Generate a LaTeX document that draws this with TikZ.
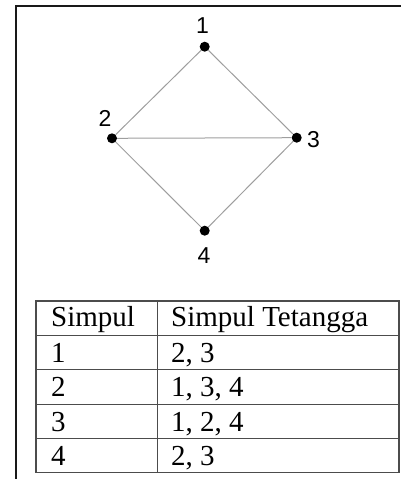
\documentclass[tikz,border=0pt]{standalone}
\usepackage{fontspec}
\setmainfont{Liberation Serif}
\newfontfamily\labfont{Liberation Sans}
\begin{document}
\begin{tikzpicture}[x=1pt,y=-1pt,
  vtx/.style={circle,fill=black,inner sep=0pt,minimum size=10pt},
  vlab/.style={font=\labfont\fontsize{23}{23}\selectfont,inner sep=0pt},
  edge/.style={draw=black!38,line width=1pt},
  cell/.style={font=\fontsize{29}{29}\selectfont,inner sep=0pt,anchor=base west},
  tline/.style={draw=black!70,line width=1.1pt},
  frame/.style={draw=black!90,line width=2pt}]
\useasboundingbox (0,0) rectangle (400,479);
% frame
\draw[frame] (16,480) -- (16,6) -- (402,6);
% graph
\node[vtx] (v1) at (204.7,46.7) {};
\node[vtx] (v2) at (112,138.3) {};
\node[vtx] (v3) at (296.7,137.7) {};
\node[vtx] (v4) at (204.7,230.7) {};
\node[vlab] (l1) at (202.5,25.5) {1};
\node[vlab] (l2) at (105,118) {2};
\node[vlab] (l3) at (313.5,139.5) {3};
\node[vlab] (l4) at (204,255.5) {4};
\draw[edge] (v1) -- (v2);
\draw[edge] (v1) -- (v3);
\draw[edge] (v2) -- (v3);
\draw[edge] (v2) -- (v4);
\draw[edge] (v3) -- (v4);
% table
\draw[tline] (36,301) rectangle (399,472.3);
\draw[tline] (157.7,301) -- (157.7,472.3);
\foreach \yy in {335.7,369.3,404.3,438.3} \draw[tline] (36,\yy) -- (399,\yy);
\node[cell] (h1) at (51,326.7) {Simpul};
\node[cell] (h2) at (171,326.7) {Simpul Tetangga};
\node[cell] (a1) at (51,362) {1};
\node[cell] (b1) at (171,362) {2, 3};
\node[cell] (a2) at (51,396.5) {2};
\node[cell] (b2) at (171,396.5) {1, 3, 4};
\node[cell] (a3) at (51,431) {3};
\node[cell] (b3) at (171,431) {1, 2, 4};
\node[cell] (a4) at (51,465) {4};
\node[cell] (b4) at (171,465) {2, 3};
\end{tikzpicture}
\end{document}
